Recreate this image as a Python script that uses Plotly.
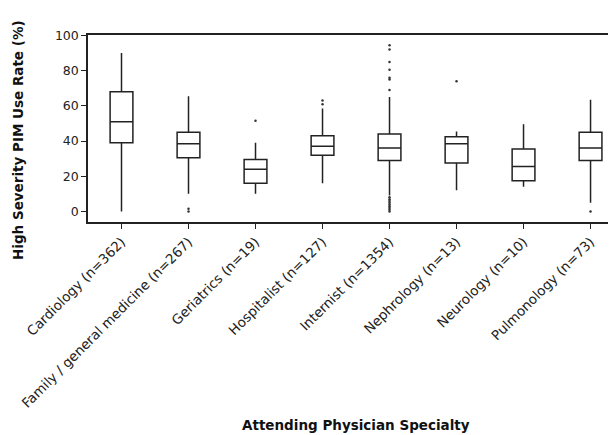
import plotly.graph_objects as go

categories = ["Cardiology (n=362)", "Family / general medicine (n=267)", "Geriatrics (n=19)",
              "Hospitalist (n=127)", "Internist (n=1354)", "Nephrology (n=13)",
              "Neurology (n=10)", "Pulmonology (n=73)"]
lower = [0, 10, 10, 16, 9, 12, 14, 5]
q1 = [39, 30.5, 16, 32, 29, 27.5, 17.5, 29]
median = [51, 38.5, 24, 37, 36, 38.5, 25.5, 36]
q3 = [68, 45, 29.5, 43, 44, 42.5, 35.5, 45]
upper = [90, 65.5, 39, 58.5, 65, 45.5, 49.5, 63.5]

outlier_cats = ["Family / general medicine (n=267)", "Family / general medicine (n=267)",
                "Geriatrics (n=19)",
                "Hospitalist (n=127)", "Hospitalist (n=127)",
                "Internist (n=1354)", "Internist (n=1354)", "Internist (n=1354)", "Internist (n=1354)",
                "Internist (n=1354)", "Internist (n=1354)", "Internist (n=1354)",
                "Internist (n=1354)", "Internist (n=1354)", "Internist (n=1354)", "Internist (n=1354)",
                "Internist (n=1354)", "Internist (n=1354)", "Internist (n=1354)", "Internist (n=1354)",
                "Internist (n=1354)",
                "Nephrology (n=13)", "Pulmonology (n=73)"]
outlier_vals = [0, 1.5,
                51.5,
                61, 63,
                94.5, 92, 85, 80.5, 76, 75, 69,
                0, 1, 2, 3, 4, 5, 6, 7, 8,
                74, 0]

x_title = "Attending Physician Specialty"
y_title = "High Severity PIM Use Rate (%)"

fig = go.Figure()
fig.add_trace(go.Box(
    x=categories, q1=q1, median=median, q3=q3, lowerfence=lower, upperfence=upper,
    fillcolor="white", line=dict(color="#222222", width=1.5), width=0.34,
    boxpoints=False, whiskerwidth=0, showlegend=False, hoverinfo="skip"))
fig.add_trace(go.Scatter(
    x=outlier_cats, y=outlier_vals, mode="markers",
    marker=dict(color="#333333", size=2.5), showlegend=False, hoverinfo="skip"))

fig.update_layout(
    width=608, height=427,
    margin=dict(l=80, r=0, t=27, b=213),
    paper_bgcolor="white", plot_bgcolor="white",
    font=dict(family="DejaVu Sans", size=13, color="#222222"),
)
fig.add_annotation(text="<b>" + x_title + "</b>", xref="paper", yref="paper",
                   x=0.508, y=-1.086, showarrow=False, xanchor="center", yanchor="middle",
                   font=dict(size=13.5, color="#111111"))
fig.add_annotation(text="<b>" + y_title + "</b>", xref="paper", yref="paper",
                   x=-0.134, y=0.44, showarrow=False, xanchor="center", yanchor="middle",
                   textangle=-90, font=dict(size=13.5, color="#111111"))
fig.update_xaxes(
    type="category", categoryorder="array", categoryarray=categories,
    range=[-0.5, 7.38], tickangle=-45, ticks="outside", ticklen=5, tickcolor="#222222",
    showline=True, linecolor="#222222", linewidth=1.5, mirror=True, showgrid=False,
    tickfont=dict(size=13.5, color="#222222"),
)
fig.update_yaxes(
    range=[-6, 100.3], tickvals=[0, 20, 40, 60, 80, 100], ticks="outside", ticklen=5,
    tickcolor="#222222", showline=True, linecolor="#222222", linewidth=1.5, showgrid=False,
    zeroline=False, tickfont=dict(size=12.5, color="#222222"),
)
fig.write_html("out.html")
